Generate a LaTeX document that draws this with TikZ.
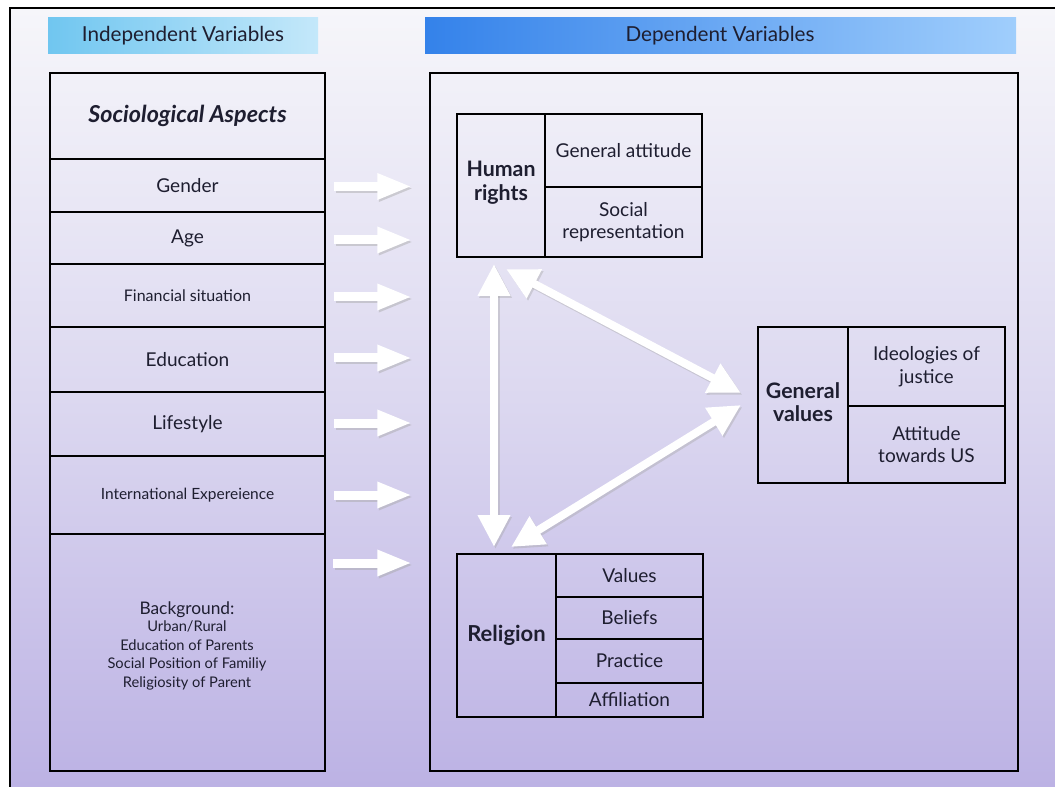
\documentclass[tikz,border=0pt]{standalone}
\usepackage{fontspec}
\setmainfont{Lato}
\usetikzlibrary{arrows.meta,fit,calc}

\definecolor{ink}{RGB}{30,30,48}
\definecolor{bgtop}{RGB}{246,246,250}
\definecolor{bgmid}{RGB}{220,216,240}
\definecolor{bgbot}{RGB}{188,178,228}
\definecolor{indL}{RGB}{112,198,240}
\definecolor{indR}{RGB}{196,232,250}
\definecolor{depL}{RGB}{52,130,234}
\definecolor{depR}{RGB}{160,206,252}

\tikzset{
  frame/.style={draw=black, line width=1.5pt, inner sep=0pt},
  txt/.style={align=center, text=ink, inner sep=0pt, font=\fontsize{14.3}{17}\selectfont},
  headtxt/.style={txt, font=\fontsize{16}{17.5}\selectfont\bfseries},
  smalltxt/.style={txt, font=\fontsize{12}{14}\selectfont},
  titlebar/.style={inner sep=0pt, text=ink, font=\fontsize{15.5}{18}\selectfont},
  blockarrow/.style={white, line width=6.75pt, -{Triangle[length=26pt, width=18pt]}},
  blockshadow/.style={black!35, opacity=0.45, line width=6.75pt, -{Triangle[length=26pt, width=18pt]}},
  linkarrow/.style={white, line width=6pt, {Triangle[length=24pt, width=23pt]}-{Triangle[length=24pt, width=23pt]}},
  linkshadow/.style={black!35, opacity=0.4, line width=6pt, {Triangle[length=24pt, width=23pt]}-{Triangle[length=24pt, width=23pt]}},
}

\begin{document}
\begin{tikzpicture}[x=0.75pt, y=-0.75pt]
  \useasboundingbox (0,0) rectangle (1055,787);
  \fill[white] (0,0) rectangle (1055,787);

  % slide background with its frame
  \shade[top color=bgtop, bottom color=bgbot, middle color=bgmid] (10,8) rectangle (1055,787);
  \draw[black, line width=1.5pt] (10,787) -- (10,8) -- (1055,8);

  % column headings
  \shade[left color=indL, right color=indR] (48,18) rectangle (318,54);
  \node[titlebar] (indtitle) at (183,36) {Independent Variables};
  \shade[left color=depL, right color=depR] (425,18) rectangle (1016,54);
  \node[titlebar] (deptitle) at (720,36) {Dependent Variables};

  % independent variables
  \node[frame, fit={(50,73)(325,159)}] (soc) {};
  \node[txt, font=\fontsize{17.5}{20}\selectfont\bfseries\itshape] at (soc.center) {Sociological Aspects};
  \node[frame, fit={(50,159)(325,212)}] (gender) {};
  \node[txt] at (gender.center) {Gender};
  \node[frame, fit={(50,212)(325,264)}] (age) {};
  \node[txt] at (age.center) {Age};
  \node[frame, fit={(50,264)(325,327)}] (fin) {};
  \node[smalltxt] at (fin.center) {Financial situation};
  \node[frame, fit={(50,327)(325,392)}] (edu) {};
  \node[txt] at (edu.center) {Education};
  \node[frame, fit={(50,392)(325,456)}] (life) {};
  \node[txt] at (life.center) {Lifestyle};
  \node[frame, fit={(50,456)(325,534)}] (intl) {};
  \node[smalltxt, font=\fontsize{11.6}{14}\selectfont] at (intl.center) {International Expereience};
  \node[frame, fit={(50,534)(325,771)}] (bg) {};
  \node[txt, font=\fontsize{11}{13.8}\selectfont] (bgtext) at (187,646)
    {{\fontsize{13}{15}\selectfont Background:}\\[-1pt]
     Urban/Rural\\
     Education of Parents\\
     Social Position of Familiy\\
     Religiosity of Parent};
  \coordinate (bgarrow) at (325,563);

  % dependent variables
  \node[frame, fit={(430,73)(1018,771)}] (dep) {};

  \node[frame, fit={(457,114)(545,257)}] (hr) {};
  \node[headtxt] at ([yshift=2]hr.center) {Human\\rights};
  \node[frame, fit={(545,114)(702,187)}] (hrA) {};
  \node[txt] at (hrA.center) {General attitude};
  \node[frame, fit={(545,187)(702,257)}] (hrB) {};
  \node[txt] at (hrB.center) {Social\\representation};

  \node[frame, fit={(758,327)(848,483)}] (gv) {};
  \node[headtxt] at ([yshift=2]gv.center) {General\\values};
  \node[frame, fit={(848,327)(1005,406)}] (gvA) {};
  \node[txt] at (gvA.center) {Ideologies of\\justice};
  \node[frame, fit={(848,406)(1005,483)}] (gvB) {};
  \node[txt] at (gvB.center) {Attitude\\towards US};

  \node[frame, fit={(457,554)(556,717)}] (rel) {};
  \node[headtxt, font=\fontsize{16.5}{18}\selectfont\bfseries] at (rel.center) {Religion};
  \node[frame, fit={(556,554)(703,597)}] (relA) {};
  \node[txt] at (relA.center) {Values};
  \node[frame, fit={(556,597)(703,639)}] (relB) {};
  \node[txt] at (relB.center) {Beliefs};
  \node[frame, fit={(556,639)(703,683)}] (relC) {};
  \node[txt] at (relC.center) {Practice};
  \node[frame, fit={(556,683)(703,717)}] (relD) {};
  \node[txt] at (relD.center) {Affiliation};

  % influence arrows from each independent variable
  \foreach \src/\dy in {gender/1, age/2, fin/1.5, edu/-1.5, life/-1, intl/0, bgarrow/0} {
    \draw[blockshadow] ([shift={(9.5,\dy+2)}]\src.east) -- ([shift={(-15.5,\dy+2)}]dep.west |- \src.east);
    \draw[blockarrow] ([shift={(8,\dy)}]\src.east) -- ([shift={(-17,\dy)}]dep.west |- \src.east);
  }

  % mutual links between the dependent variables
  \coordinate (hrV) at ($(hr.south west)+(38,6)$);
  \coordinate (relV) at ($(rel.north west)+(38,-6)$);
  \coordinate (hrD) at ($(hr.south west)+(50,11)$);
  \coordinate (gvU) at ($(gv.west)+(-16,-12)$);
  \coordinate (gvL) at ($(gv.west)+(-16,0)$);
  \coordinate (relD2) at ($(rel.north west)+(55,-6)$);

  \draw[linkshadow] ($(hrV)+(1.5,2)$) -- ($(relV)+(1.5,2)$);
  \draw[linkshadow] ($(hrD)+(1.5,2)$) -- ($(gvU)+(1.5,2)$);
  \draw[linkshadow] ($(gvL)+(1.5,2)$) -- ($(relD2)+(1.5,2)$);
  \draw[linkarrow] (hrV) -- (relV);
  \draw[linkarrow] (hrD) -- (gvU);
  \draw[linkarrow] (gvL) -- (relD2);
\end{tikzpicture}
\end{document}
